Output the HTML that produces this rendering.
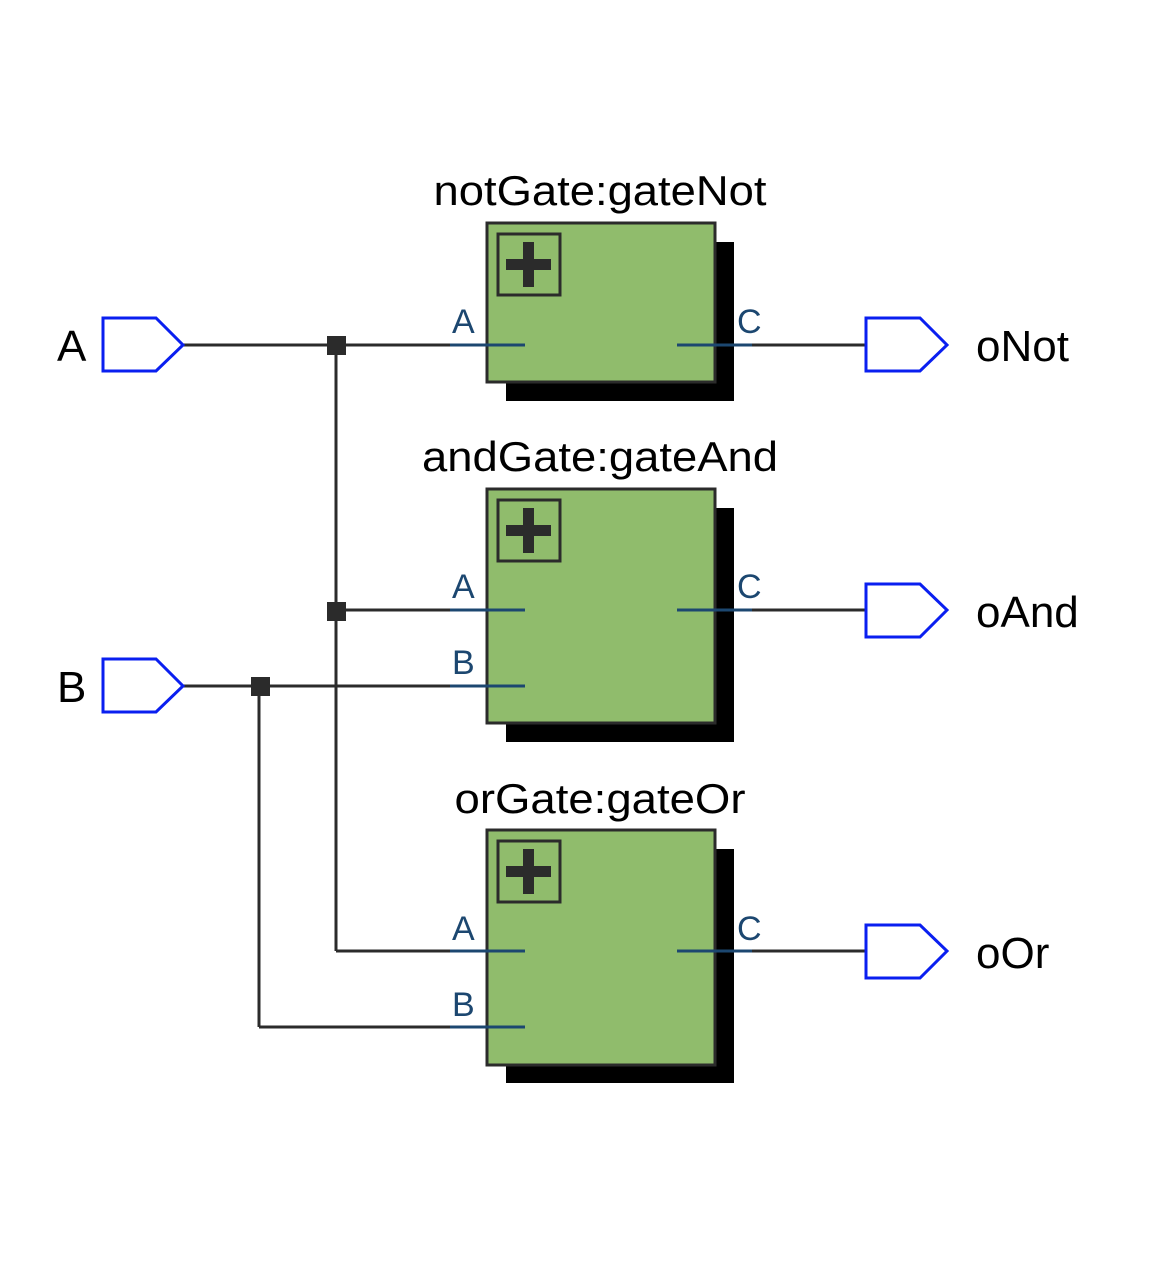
<!DOCTYPE html>
<html><head><meta charset="utf-8"><style>html,body{margin:0;padding:0;background:#fff}svg{display:block}</style></head>
<body>
<svg width="1162" height="1266" viewBox="0 0 1162 1266" xmlns="http://www.w3.org/2000/svg" font-family="Liberation Sans, Arial, sans-serif">
<rect width="1162" height="1266" fill="#fff"/>
<g stroke="#2b2b2b" stroke-width="3" fill="none">
  <line x1="183" y1="345" x2="452" y2="345"/>
  <line x1="750" y1="345" x2="866" y2="345"/>
  <line x1="336" y1="345" x2="336" y2="951"/>
  <line x1="336" y1="610" x2="452" y2="610"/>
  <line x1="183" y1="686" x2="452" y2="686"/>
  <line x1="259" y1="686" x2="259" y2="1027"/>
  <line x1="336" y1="951" x2="452" y2="951"/>
  <line x1="259" y1="1027" x2="452" y2="1027"/>
  <line x1="750" y1="610" x2="866" y2="610"/>
  <line x1="750" y1="951" x2="866" y2="951"/>
</g>
<g fill="#2b2b2b">
  <rect x="327" y="336" width="19" height="19"/>
  <rect x="327" y="602" width="19" height="19"/>
  <rect x="251" y="677" width="19" height="19"/>
</g>
<!-- boxes -->
<g>
  <rect x="506" y="242" width="228" height="159" fill="#000"/>
  <rect x="487" y="223" width="228" height="159" fill="#90bc6c" stroke="#2b2b2b" stroke-width="3"/>
  <rect x="498" y="234" width="62" height="61" fill="none" stroke="#2b2b2b" stroke-width="3"/>
  <rect x="506" y="259" width="45" height="11" fill="#2b2b2b"/><rect x="523" y="242" width="11" height="45" fill="#2b2b2b"/>

  <rect x="506" y="508" width="228" height="234" fill="#000"/>
  <rect x="487" y="489" width="228" height="234" fill="#90bc6c" stroke="#2b2b2b" stroke-width="3"/>
  <rect x="498" y="500" width="62" height="61" fill="none" stroke="#2b2b2b" stroke-width="3"/>
  <rect x="506" y="525" width="45" height="11" fill="#2b2b2b"/><rect x="523" y="508" width="11" height="45" fill="#2b2b2b"/>

  <rect x="506" y="849" width="228" height="234" fill="#000"/>
  <rect x="487" y="830" width="228" height="235" fill="#90bc6c" stroke="#2b2b2b" stroke-width="3"/>
  <rect x="498" y="841" width="62" height="61" fill="none" stroke="#2b2b2b" stroke-width="3"/>
  <rect x="506" y="866" width="45" height="11" fill="#2b2b2b"/><rect x="523" y="849" width="11" height="45" fill="#2b2b2b"/>
</g>
<g stroke="#1c4770" stroke-width="3">
  <line x1="450" y1="345" x2="525" y2="345"/><line x1="677" y1="345" x2="752" y2="345"/>
  <line x1="450" y1="610" x2="525" y2="610"/><line x1="450" y1="686" x2="525" y2="686"/><line x1="677" y1="610" x2="752" y2="610"/>
  <line x1="450" y1="951" x2="525" y2="951"/><line x1="450" y1="1027" x2="525" y2="1027"/><line x1="677" y1="951" x2="752" y2="951"/>
</g>
<g fill="#1c4770" font-size="34">
  <text x="452" y="333">A</text><text x="737" y="333">C</text>
  <text x="452" y="598">A</text><text x="452" y="674">B</text><text x="737" y="598">C</text>
  <text x="452" y="940">A</text><text x="452" y="1016">B</text><text x="737" y="940">C</text>
</g>
<!-- ports -->
<g fill="#fff" stroke="#0a1ff0" stroke-width="3">
  <polygon points="103,318 156,318 183,345 156,371 103,371"/>
  <polygon points="103,659 156,659 183,686 156,712 103,712"/>
  <polygon points="866,318 920,318 947,345 920,371 866,371"/>
  <polygon points="866,584 920,584 947,610 920,637 866,637"/>
  <polygon points="866,925 920,925 947,951 920,978 866,978"/>
</g>
<g fill="#000" font-size="44">
  <text x="57" y="361">A</text>
  <text x="57" y="702">B</text>
  <text x="976" y="361">oNot</text>
  <text x="976" y="627">oAnd</text>
  <text x="976" y="968">oOr</text>
  <text x="600" y="205" text-anchor="middle" font-size="42" textLength="333" lengthAdjust="spacingAndGlyphs">notGate:gateNot</text>
  <text x="600" y="471" text-anchor="middle" font-size="42" textLength="356" lengthAdjust="spacingAndGlyphs">andGate:gateAnd</text>
  <text x="600" y="813" text-anchor="middle" font-size="42" textLength="291" lengthAdjust="spacingAndGlyphs">orGate:gateOr</text>
</g>
</svg>
</body></html>
